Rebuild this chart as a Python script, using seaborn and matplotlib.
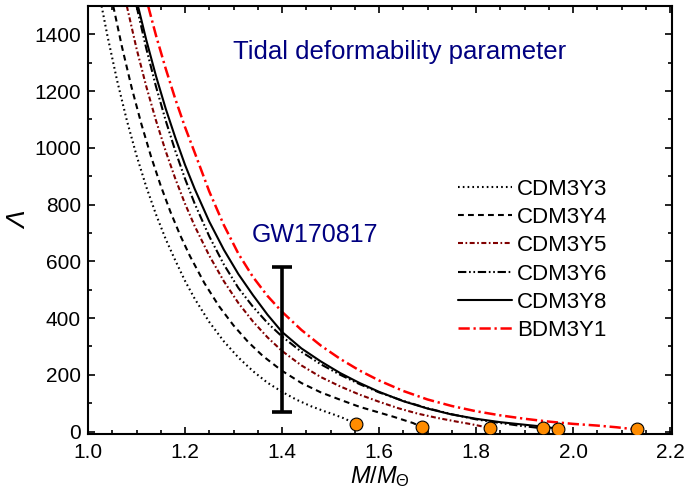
import numpy as np
import pandas as pd
import matplotlib
matplotlib.use("Agg")
import matplotlib.pyplot as plt
import seaborn as sns

# curves: mass (M/Msun) and tidal deformability
m_y3 = [1.028, 1.04, 1.06, 1.08, 1.10, 1.12, 1.14, 1.16, 1.18, 1.20, 1.22, 1.25, 1.28, 1.31,
        1.34, 1.37, 1.40, 1.43, 1.46, 1.49, 1.51, 1.53, 1.553]
l_y3 = [1500, 1395, 1237, 1097, 973, 863, 766, 679, 603, 531, 468, 386, 318, 261,
        213, 172, 140, 112, 89, 70, 58, 45, 25]

m_y4 = [1.052, 1.07, 1.09, 1.11, 1.13, 1.15, 1.17, 1.19, 1.21, 1.24, 1.27, 1.30, 1.33, 1.36,
        1.40, 1.44, 1.48, 1.52, 1.56, 1.60, 1.63, 1.65, 1.67, 1.689]
l_y4 = [1500, 1356, 1212, 1084, 969, 866, 774, 692, 619, 523, 442, 374, 316, 267,
        214, 171, 138, 112, 87, 67, 52, 41, 30, 15]

m_y5 = [1.080, 1.10, 1.12, 1.14, 1.16, 1.18, 1.20, 1.22, 1.25, 1.28, 1.31, 1.34, 1.37, 1.40,
        1.44, 1.48, 1.52, 1.56, 1.60, 1.64, 1.68, 1.72, 1.76, 1.79, 1.81, 1.829]
l_y5 = [1500, 1350, 1217, 1097, 989, 891, 803, 724, 620, 530, 453, 388, 332, 284,
        233, 192, 159, 130, 105, 82, 63, 48, 35, 26, 19, 11]

m_y6 = [1.100, 1.12, 1.14, 1.16, 1.18, 1.20, 1.22, 1.25, 1.28, 1.31, 1.34, 1.37, 1.40, 1.44,
        1.48, 1.52, 1.56, 1.60, 1.65, 1.70, 1.75, 1.80, 1.85, 1.89, 1.915, 1.938]
l_y6 = [1500, 1351, 1217, 1097, 989, 891, 803, 688, 589, 506, 440, 383, 335, 281,
        237, 200, 167, 138, 108, 82, 61, 43, 30, 20.5, 15.6, 11]

m_y8 = [1.103, 1.12, 1.14, 1.16, 1.18, 1.20, 1.22, 1.25, 1.28, 1.31, 1.34, 1.37, 1.40, 1.44,
        1.48, 1.52, 1.56, 1.60, 1.65, 1.70, 1.75, 1.80, 1.85, 1.90, 1.94, 1.968]
l_y8 = [1500, 1381, 1254, 1139, 1036, 940, 855, 740, 641, 555, 481, 412, 351, 293,
        247, 206, 171, 140, 107, 81, 60, 45, 33, 24, 17, 10]

m_bdm = [1.124, 1.14, 1.16, 1.18, 1.20, 1.22, 1.25, 1.28, 1.31, 1.34, 1.37, 1.40, 1.44, 1.48,
         1.52, 1.56, 1.60, 1.65, 1.70, 1.75, 1.80, 1.85, 1.90, 1.95, 2.00, 2.05, 2.09, 2.131]
l_bdm = [1500, 1397, 1280, 1172, 1073, 983, 846, 728, 627, 545, 478, 422, 358, 303,
         256, 215, 180, 143, 113, 90, 71.5, 57, 45, 35, 27, 21, 15, 7]

models = ["CDM3Y3", "CDM3Y4", "CDM3Y5", "CDM3Y6", "CDM3Y8", "BDM3Y1"]

# maximum mass configurations (orange dots)
end_m = [1.553, 1.689, 1.829, 1.938, 1.968, 2.131]
end_l = [25, 15, 11, 11, 10, 8]

# GW170817 constraint at 1.4 Msun
gw_m = 1.4
gw_lo = 70
gw_hi = 580

df = pd.concat([
    pd.DataFrame({"M": m, "L": l, "model": name})
    for name, m, l in zip(models, [m_y3, m_y4, m_y5, m_y6, m_y8, m_bdm],
                          [l_y3, l_y4, l_y5, l_y6, l_y8, l_bdm])
])

colors = {"CDM3Y3": "black", "CDM3Y4": "black", "CDM3Y5": "#800000",
          "CDM3Y6": "black", "CDM3Y8": "black", "BDM3Y1": "#ff0000"}
dashes = {"CDM3Y3": (0.8, 1.5), "CDM3Y4": (2.8, 2.0), "CDM3Y5": (2.4, 1.2, 0.8, 1.2),
          "CDM3Y6": (4.0, 1.3, 0.8, 1.3, 0.8, 1.3), "CDM3Y8": "",
          "BDM3Y1": (4.5, 1.5, 0.9, 1.5)}

sns.set_style("ticks")
plt.rcParams["font.family"] = ["Liberation Sans", "DejaVu Sans"]
plt.rcParams["mathtext.fontset"] = "custom"
plt.rcParams["mathtext.it"] = "Liberation Sans:italic"
plt.rcParams["mathtext.rm"] = "Liberation Sans"
plt.rcParams["text.color"] = "black"
plt.rcParams["axes.labelcolor"] = "black"
plt.rcParams["xtick.color"] = "black"
plt.rcParams["ytick.color"] = "black"

fig = plt.figure(figsize=(6.85, 5.01), dpi=100)
ax = fig.add_axes([0.1285, 0.1347, 0.8525, 0.8533])

sns.lineplot(data=df, x="M", y="L", hue="model", style="model", hue_order=models,
             style_order=models, palette=colors, dashes=dashes, estimator=None,
             linewidth=1.5, ax=ax)
# the red BDM3Y1 curve is drawn a bit heavier
for line in ax.lines:
    if line.get_color() == "#ff0000":
        line.set_linewidth(1.8)

ax.errorbar(gw_m, (gw_lo + gw_hi) / 2, yerr=(gw_hi - gw_lo) / 2, fmt="none",
            ecolor="black", elinewidth=2.6, capsize=7.5, capthick=2.6, zorder=4)

sns.scatterplot(x=end_m, y=end_l, color="#ff8c00", edgecolor="black", linewidth=0.8,
                s=85, zorder=5, ax=ax, legend=False)

ax.set_xlim(1.0, 2.204)
ax.set_ylim(-7, 1500)
ax.set_xticks(np.arange(1.0, 2.21, 0.2))
ax.set_xticks(np.arange(1.0, 2.21, 0.05), minor=True)
ax.set_yticks(np.arange(0, 1401, 200))
ax.set_yticks(np.arange(0, 1501, 100), minor=True)
ax.xaxis.set_major_formatter(matplotlib.ticker.FormatStrFormatter("%.1f"))
ax.tick_params(which="both", direction="in", top=True, right=True, width=1.2,
               labelsize=15, colors="black")
ax.tick_params(which="major", length=5)
ax.tick_params(which="minor", length=3)
ax.tick_params(axis="x", pad=7)
ax.tick_params(axis="y", pad=5)
for sp in ax.spines.values():
    sp.set_visible(True)
    sp.set_linewidth(1.5)
    sp.set_color("black")

ax.set_xlabel(r"$M/M_{\Theta}$", fontsize=17, labelpad=1)
ax.set_ylabel("Λ", fontsize=19, fontstyle="italic", labelpad=2)

ax.text(0.534, 0.892, "Tidal deformability parameter", transform=ax.transAxes,
        ha="center", va="center", fontsize=18.5, color="#000080")
ax.text(0.389, 0.464, "GW170817", transform=ax.transAxes,
        ha="center", va="center", fontsize=18, color="#000080")

handles, labels = ax.get_legend_handles_labels()
leg = ax.legend(handles, labels, loc="upper left", bbox_to_anchor=(0.634, 0.5965),
                frameon=False, fontsize=16, handlelength=2.43, handletextpad=0.23,
                labelspacing=0.33, borderpad=0, borderaxespad=0)
for h in leg.get_lines():
    if h.get_color() == "#ff0000":
        h.set_linewidth(1.8)

fig.savefig("out.png", dpi=100)
